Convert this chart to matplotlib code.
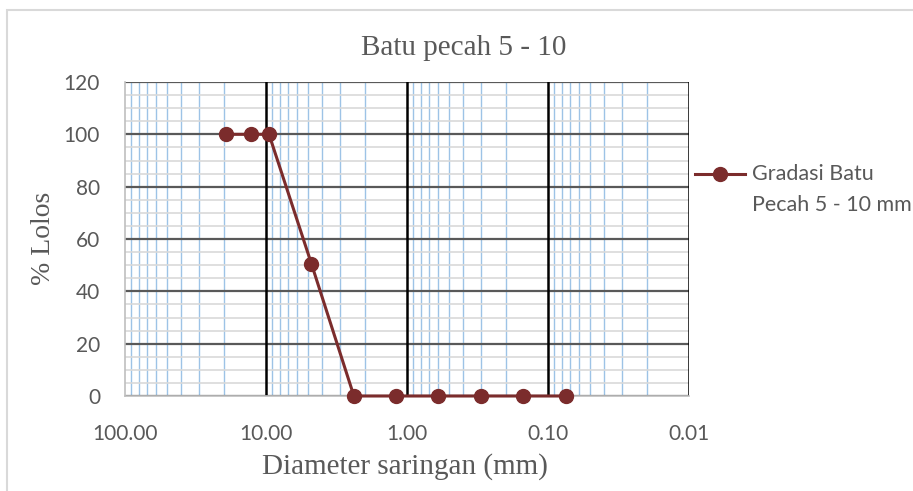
import numpy as np
import matplotlib.pyplot as plt
from matplotlib.lines import Line2D
from matplotlib.patches import Rectangle
from matplotlib.ticker import FixedLocator, MultipleLocator, NullFormatter

# Data gradasi batu pecah 5 - 10 mm
diameter_mm = [19.1, 12.7, 9.52, 4.76, 2.38, 1.19, 0.6, 0.3, 0.15, 0.075]
persen_lolos = [100, 100, 100, 50.5, 0, 0, 0, 0, 0, 0]
x_ticks = [100, 10, 1, 0.1, 0.01]
x_ticklabels = ['100.00', '10.00', '1.00', '0.10', '0.01']
y_ticks = [0, 20, 40, 60, 80, 100, 120]

line_color = '#7B2C2C'
text_color = '#595959'
serif = 'Liberation Serif'
sans = 'Lato'

fig = plt.figure(figsize=(9.13, 4.91), dpi=100)
ax = fig.add_axes([125/913, 1 - 396/491, (689 - 125)/913, (396 - 82)/491])

# Bingkai luar (abu-abu muda)
fig.add_artist(Rectangle((7/913, -0.1), 1.0, 1 - 10/491 + 0.1, transform=fig.transFigure,
                         fill=False, edgecolor='#D9D9D9', linewidth=1.5))

ax.set_xscale('log')
ax.set_xlim(100, 0.01)
ax.set_ylim(0, 120)

# Garis grid
minor_x = [m * 10.0**e for e in range(-2, 2) for m in range(2, 10)]
ax.xaxis.set_major_locator(FixedLocator(x_ticks))
ax.xaxis.set_minor_locator(FixedLocator(minor_x))
ax.xaxis.set_minor_formatter(NullFormatter())
ax.set_xticklabels(x_ticklabels)
ax.yaxis.set_major_locator(FixedLocator(y_ticks))
ax.yaxis.set_minor_locator(MultipleLocator(5))

ax.grid(True, axis='x', which='minor', color='#9DC3E6', linewidth=1.0)
ax.grid(True, axis='y', which='minor', color='#D9D9D9', linewidth=1.2)
ax.grid(True, axis='y', which='major', color='#595959', linewidth=1.6)
ax.set_axisbelow(True)
# garis dekade hitam di atas grid lainnya (kecuali tepi kiri)
for xv in x_ticks[1:]:
    ax.axvline(xv, color='black', linewidth=1.8, zorder=1.5)

for s in ['top', 'right']:
    ax.spines[s].set_visible(False)
for s in ['left', 'bottom']:
    ax.spines[s].set_color('#BFBFBF')
    ax.spines[s].set_linewidth(1.2)

ax.tick_params(which='both', length=0)
ax.tick_params(axis='both', labelsize=15, labelcolor=text_color)
ax.tick_params(axis='x', pad=20)
ax.tick_params(axis='y', pad=18)
for lab in ax.get_xticklabels() + ax.get_yticklabels():
    lab.set_fontfamily(sans)

ax.plot(diameter_mm, persen_lolos, color=line_color, linewidth=2.2,
        marker='o', markersize=10, clip_on=False, zorder=5)

# Judul dan label sumbu
fig.text(464/913, 1 - 48/491, 'Batu pecah 5 - 10', ha='center', va='center',
         fontsize=21, family=serif, color=text_color)
fig.text(405/913, 1 - 467/491, 'Diameter saringan (mm)', ha='center', va='center',
         fontsize=21, family=serif, color=text_color)
fig.text(43/913, 1 - 238/491, '% Lolos', ha='center', va='center', rotation=90,
         fontsize=20, family=serif, color=text_color)

# Legenda
fig.add_artist(Line2D([695/913, 745/913], [1 - 174/491, 1 - 174/491],
                      transform=fig.transFigure, color=line_color, linewidth=2.2))
fig.add_artist(Line2D([720/913], [1 - 174/491], transform=fig.transFigure,
                      color=line_color, marker='o', markersize=10))
fig.text(752/913, 1 - 174/491, 'Gradasi Batu', ha='left', va='center',
         fontsize=15.5, family=sans, color=text_color)
fig.text(752/913, 1 - 205/491, 'Pecah 5 - 10 mm', ha='left', va='center',
         fontsize=15.5, family=sans, color=text_color)

plt.savefig('out.png', dpi=100)
